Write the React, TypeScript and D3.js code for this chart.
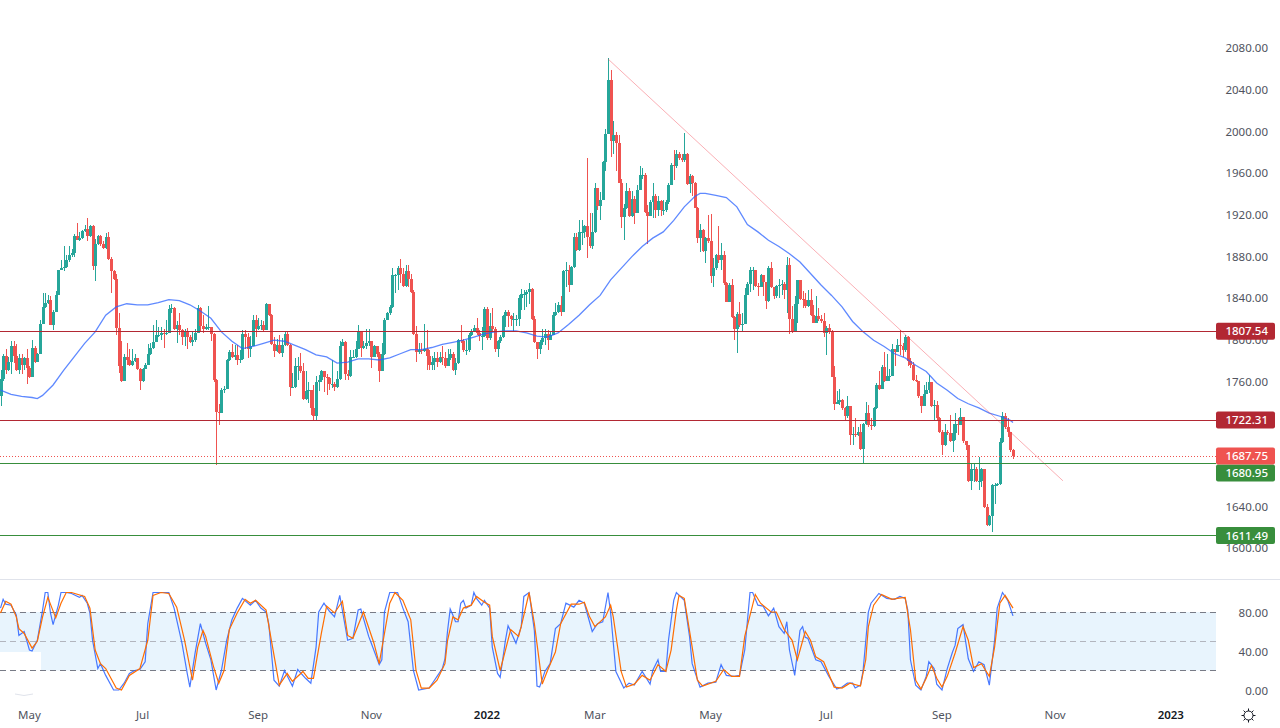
import { useRef, useEffect } from 'react';
import * as d3 from 'd3';

// Daily candles, values. Each open is the previous close.
const firstOpen = 1745;
const closes = [
  1762, 1784, 1770, 1778, 1793, 1784, 1770, 1782, 1775, 1782,
  1772, 1764, 1792, 1778, 1786, 1815, 1831, 1835, 1838, 1814,
  1826, 1842, 1866, 1868, 1869, 1876, 1881, 1883, 1899, 1895,
  1897, 1904, 1906, 1899, 1909, 1870, 1891, 1899, 1891, 1888,
  1898, 1877, 1865, 1858, 1811, 1774, 1760, 1783, 1780, 1775,
  1779, 1782, 1771, 1760, 1771, 1775, 1786, 1792, 1797, 1804,
  1804, 1806, 1805, 1806, 1829, 1830, 1810, 1814, 1809, 1802,
  1807, 1802, 1797, 1799, 1806, 1830, 1813, 1810, 1812, 1812,
  1805, 1761, 1730, 1729, 1751, 1752, 1780, 1788, 1783, 1785,
  1780, 1781, 1805, 1802, 1791, 1793, 1818, 1810, 1813, 1814,
  1809, 1834, 1823, 1795, 1789, 1794, 1787, 1794, 1805, 1794,
  1754, 1754, 1774, 1774, 1769, 1743, 1750, 1751, 1734, 1726,
  1759, 1761, 1769, 1764, 1763, 1757, 1757, 1754, 1762, 1793,
  1797, 1767, 1765, 1783, 1783, 1791, 1808, 1792, 1793, 1796,
  1798, 1783, 1793, 1786, 1769, 1786, 1818, 1825, 1831, 1862,
  1862, 1868, 1863, 1851, 1865, 1858, 1845, 1805, 1788, 1790,
  1789, 1791, 1784, 1775, 1778, 1782, 1778, 1783, 1782, 1774,
  1782, 1786, 1770, 1777, 1799, 1798, 1790, 1790, 1804, 1808,
  1811, 1806, 1803, 1803, 1829, 1801, 1813, 1810, 1791, 1798,
  1802, 1822, 1826, 1822, 1819, 1819, 1819, 1840, 1843, 1843,
  1845, 1848, 1819, 1797, 1791, 1797, 1801, 1805, 1799, 1804,
  1823, 1826, 1833, 1826, 1865, 1866, 1852, 1869, 1898, 1886,
  1903, 1903, 1909, 1898, 1889, 1903, 1945, 1928, 1934, 1970,
  1997, 2049, 1990, 1996, 1988, 1950, 1917, 1926, 1942, 1918,
  1935, 1921, 1943, 1958, 1958, 1922, 1918, 1932, 1937, 1924,
  1933, 1924, 1924, 1932, 1948, 1967, 1966, 1978, 1974, 1972,
  1978, 1949, 1957, 1950, 1926, 1897, 1905, 1885, 1897, 1894,
  1861, 1868, 1881, 1876, 1881, 1854, 1836, 1852, 1821, 1810,
  1824, 1814, 1815, 1842, 1853, 1866, 1866, 1851, 1850, 1862,
  1855, 1837, 1868, 1850, 1841, 1851, 1852, 1853, 1847, 1871,
  1819, 1807, 1834, 1857, 1839, 1838, 1832, 1838, 1823, 1816,
  1822, 1819, 1817, 1806, 1811, 1807, 1764, 1738, 1740, 1742,
  1734, 1726, 1736, 1708, 1709, 1708, 1711, 1695, 1719, 1729,
  1718, 1717, 1734, 1756, 1752, 1773, 1760, 1765, 1765, 1791,
  1788, 1794, 1793, 1790, 1802, 1779, 1775, 1761, 1760, 1745,
  1736, 1747, 1751, 1759, 1736, 1737, 1724, 1711, 1698, 1711,
  1710, 1702, 1710, 1719, 1718, 1725, 1702, 1698, 1664, 1675,
  1675, 1664, 1664, 1675, 1639, 1622, 1630, 1660, 1660, 1661,
  1701, 1726, 1716, 1711, 1694, 1687.75,
];
const highs = [
  1770, 1786, 1791, 1783, 1798, 1798, 1795, 1786, 1786, 1783,
  1791, 1774, 1799, 1793, 1787, 1818, 1844, 1844, 1842, 1841,
  1828, 1846, 1866, 1876, 1889, 1881, 1889, 1887, 1901, 1912,
  1903, 1905, 1910, 1916, 1910, 1910, 1896, 1900, 1900, 1894,
  1902, 1903, 1879, 1866, 1863, 1825, 1798, 1786, 1796, 1791,
  1791, 1786, 1782, 1772, 1772, 1777, 1795, 1796, 1814, 1818,
  1812, 1812, 1810, 1818, 1833, 1834, 1831, 1817, 1825, 1810,
  1810, 1811, 1804, 1807, 1810, 1833, 1831, 1823, 1815, 1832,
  1812, 1806, 1762, 1738, 1753, 1755, 1781, 1790, 1795, 1794,
  1794, 1790, 1809, 1809, 1806, 1803, 1823, 1823, 1820, 1818,
  1817, 1835, 1830, 1824, 1802, 1800, 1804, 1801, 1808, 1807,
  1795, 1768, 1782, 1783, 1787, 1777, 1769, 1759, 1751, 1756,
  1765, 1766, 1770, 1769, 1767, 1764, 1780, 1759, 1769, 1798,
  1800, 1798, 1770, 1790, 1790, 1798, 1814, 1807, 1798, 1810,
  1810, 1798, 1794, 1793, 1788, 1796, 1820, 1826, 1833, 1868,
  1863, 1870, 1877, 1868, 1871, 1871, 1863, 1847, 1813, 1796,
  1796, 1815, 1809, 1790, 1784, 1788, 1788, 1788, 1793, 1788,
  1791, 1791, 1788, 1782, 1800, 1814, 1800, 1799, 1806, 1810,
  1814, 1820, 1809, 1812, 1831, 1831, 1825, 1830, 1812, 1799,
  1804, 1823, 1828, 1828, 1823, 1825, 1823, 1842, 1848, 1847,
  1847, 1854, 1849, 1822, 1797, 1799, 1810, 1810, 1809, 1807,
  1826, 1835, 1836, 1841, 1866, 1874, 1871, 1870, 1902, 1902,
  1914, 1914, 1910, 1974, 1921, 1921, 1950, 1945, 1941, 1971,
  2002, 2070, 2058, 2009, 1999, 1996, 1954, 1930, 1950, 1945,
  1942, 1937, 1948, 1966, 1964, 1960, 1929, 1934, 1950, 1939,
  1937, 1934, 1934, 1934, 1950, 1969, 1982, 1982, 1980, 1978,
  1998, 1979, 1959, 1958, 1951, 1927, 1911, 1906, 1898, 1919,
  1920, 1878, 1882, 1909, 1892, 1885, 1855, 1854, 1858, 1822,
  1826, 1836, 1825, 1849, 1855, 1869, 1869, 1866, 1854, 1863,
  1857, 1855, 1870, 1874, 1850, 1852, 1858, 1857, 1855, 1879,
  1878, 1832, 1841, 1857, 1857, 1846, 1844, 1847, 1848, 1833,
  1841, 1830, 1823, 1825, 1813, 1815, 1809, 1774, 1750, 1752,
  1743, 1735, 1745, 1736, 1716, 1724, 1716, 1719, 1720, 1740,
  1737, 1724, 1735, 1758, 1769, 1775, 1788, 1786, 1771, 1795,
  1791, 1800, 1809, 1796, 1804, 1803, 1782, 1778, 1766, 1760,
  1745, 1756, 1759, 1766, 1759, 1742, 1741, 1725, 1713, 1719,
  1713, 1727, 1719, 1729, 1724, 1734, 1725, 1702, 1698, 1681,
  1680, 1677, 1687, 1676, 1672, 1642, 1631, 1661, 1662, 1662,
  1705, 1730, 1729, 1724, 1711, 1695,
];
const lows = [
  1736, 1760, 1767, 1769, 1767, 1777, 1769, 1767, 1767, 1770,
  1757, 1763, 1764, 1777, 1778, 1786, 1815, 1830, 1834, 1814,
  1809, 1826, 1842, 1866, 1865, 1868, 1874, 1879, 1879, 1895,
  1894, 1896, 1903, 1894, 1898, 1866, 1856, 1890, 1889, 1887,
  1887, 1876, 1844, 1857, 1804, 1768, 1759, 1760, 1775, 1774,
  1774, 1778, 1770, 1751, 1759, 1771, 1775, 1785, 1791, 1797,
  1802, 1799, 1792, 1804, 1806, 1825, 1809, 1796, 1804, 1794,
  1793, 1791, 1796, 1793, 1797, 1806, 1807, 1806, 1809, 1809,
  1798, 1759, 1679, 1718, 1729, 1748, 1752, 1779, 1782, 1780,
  1775, 1777, 1780, 1791, 1782, 1783, 1802, 1802, 1809, 1809,
  1807, 1809, 1822, 1794, 1783, 1788, 1786, 1783, 1793, 1793,
  1745, 1753, 1753, 1761, 1768, 1742, 1742, 1739, 1727, 1722,
  1722, 1750, 1759, 1749, 1746, 1751, 1753, 1750, 1753, 1761,
  1793, 1761, 1761, 1764, 1782, 1782, 1791, 1783, 1791, 1791,
  1793, 1772, 1783, 1783, 1759, 1769, 1785, 1818, 1823, 1830,
  1844, 1847, 1854, 1850, 1850, 1850, 1844, 1804, 1778, 1786,
  1786, 1788, 1770, 1770, 1770, 1770, 1773, 1777, 1775, 1772,
  1774, 1780, 1769, 1766, 1776, 1796, 1788, 1785, 1788, 1803,
  1807, 1804, 1798, 1790, 1802, 1799, 1799, 1807, 1788, 1783,
  1796, 1801, 1812, 1812, 1813, 1807, 1813, 1813, 1828, 1828,
  1831, 1834, 1818, 1796, 1781, 1786, 1794, 1794, 1790, 1802,
  1807, 1822, 1825, 1822, 1826, 1850, 1845, 1852, 1868, 1885,
  1885, 1890, 1897, 1878, 1888, 1887, 1902, 1924, 1914, 1934,
  1961, 1997, 1975, 1978, 1961, 1950, 1907, 1895, 1925, 1917,
  1917, 1911, 1921, 1943, 1954, 1921, 1891, 1918, 1916, 1916,
  1918, 1918, 1919, 1922, 1930, 1948, 1953, 1964, 1972, 1970,
  1970, 1948, 1940, 1937, 1926, 1892, 1884, 1884, 1873, 1892,
  1854, 1850, 1866, 1873, 1866, 1852, 1836, 1838, 1820, 1799,
  1787, 1812, 1807, 1815, 1842, 1845, 1847, 1850, 1841, 1850,
  1841, 1829, 1836, 1849, 1839, 1840, 1840, 1842, 1839, 1825,
  1805, 1806, 1808, 1816, 1838, 1830, 1830, 1831, 1822, 1816,
  1816, 1817, 1816, 1802, 1785, 1805, 1764, 1732, 1738, 1737,
  1732, 1722, 1724, 1698, 1698, 1706, 1707, 1694, 1681, 1718,
  1716, 1713, 1716, 1733, 1751, 1752, 1759, 1760, 1760, 1765,
  1774, 1788, 1785, 1783, 1788, 1774, 1772, 1760, 1759, 1744,
  1729, 1736, 1747, 1748, 1735, 1721, 1722, 1710, 1689, 1697,
  1708, 1701, 1692, 1703, 1708, 1718, 1700, 1694, 1663, 1655,
  1663, 1663, 1655, 1658, 1638, 1621, 1621, 1615, 1642, 1659,
  1660, 1700, 1714, 1706, 1692, 1685,
];

// Blue moving average, sampled every few candles
const maDays = [
  0, 4, 8, 12, 14, 16, 20, 24, 28, 32, 36, 40, 44, 48, 52, 56, 60, 64, 68, 72,
  76, 80, 84, 88, 92, 96, 100, 104, 108, 112, 116, 120, 124, 128, 132, 136, 140, 144, 148, 152,
  156, 160, 164, 168, 172, 176, 180, 184, 188, 192, 196, 200, 204, 208, 212, 216, 220, 224, 228, 232,
  236, 240, 244, 248, 252, 256, 260, 264, 266, 268, 272, 276, 280, 284, 288, 292, 296, 300, 304, 308,
  312, 316, 320, 324, 328, 332, 336, 340, 344, 348, 352, 356, 360, 364, 368, 372, 376, 380, 384, 385,
];
const maValues = [
  1751, 1747, 1745, 1744, 1743, 1746, 1756, 1770, 1783, 1796, 1807, 1823, 1831, 1834, 1833, 1833, 1835, 1838, 1837, 1833,
  1827, 1820, 1807, 1798, 1791, 1793, 1796, 1799, 1798, 1794, 1790, 1785, 1783, 1777, 1778, 1781, 1781, 1780, 1782, 1786,
  1790, 1790, 1792, 1795, 1797, 1799, 1802, 1805, 1807, 1808, 1808, 1806, 1803, 1802, 1806, 1814, 1823, 1833, 1842, 1857,
  1868, 1879, 1889, 1897, 1903, 1914, 1927, 1937, 1940, 1940, 1938, 1936, 1927, 1910, 1903, 1895, 1889, 1882, 1874, 1863,
  1852, 1842, 1831, 1817, 1807, 1799, 1793, 1786, 1782, 1775, 1769, 1758, 1751, 1743, 1738, 1734, 1729, 1726, 1722, 1720,
];

// Trend line from the March high
const trendDays = [231, 404];
const trendValues = [2069, 1664];

// Horizontal levels with their axis tags
const levelValues = [1807.54, 1722.31, 1680.95, 1611.49];
const levelColors = ['#b22833', '#b22833', '#388e3c', '#388e3c'];
const lastPrice = 1687.75;

// Stochastic %K
const kDays = [
  0, 1, 2, 4, 6, 7, 9, 11, 12, 14, 16, 17, 18, 19, 20, 22, 23, 25, 27, 30,
  31, 33, 34, 35, 37, 38, 40, 43, 45, 47, 49, 51, 53, 55, 56, 58, 61, 64, 66, 69,
  71, 72, 74, 76, 78, 80, 82, 84, 86, 88, 90, 92, 95, 97, 99, 101, 102, 104, 106, 108,
  111, 113, 116, 118, 120, 121, 123, 125, 127, 129, 132, 134, 136, 137, 140, 141, 144, 145, 146, 148,
  151, 153, 155, 157, 159, 163, 165, 166, 168, 169, 170, 171, 172, 173, 174, 175, 176, 177, 179, 180,
  181, 183, 184, 186, 187, 189, 190, 192, 193, 196, 198, 199, 201, 203, 204, 205, 207, 209, 211, 213,
  215, 218, 220, 222, 225, 227, 229, 231, 232, 234, 237, 239, 241, 244, 247, 248, 250, 251, 253, 254,
  256, 257, 260, 262, 263, 266, 269, 272, 274, 276, 279, 281, 283, 285, 286, 288, 290, 292, 294, 296,
  298, 299, 300, 302, 304, 305, 306, 307, 310, 312, 315, 318, 320, 322, 324, 325, 327, 328, 330, 331,
  334, 337, 340, 342, 344, 345, 346, 348, 350, 352, 353, 355, 356, 358, 360, 362, 363, 364, 366, 368,
  370, 372, 374, 376, 378, 379, 381, 383, 385,
];
const kValues = [
  84, 93, 88, 87, 77, 56, 60, 41, 40, 51, 82, 100, 100, 79, 67, 87, 100, 100, 99, 95,
  97, 89, 79, 51, 22, 27, 15, 0, 0, 7, 17, 20, 21, 29, 68, 100, 100, 100, 84, 48,
  17, 3, 38, 68, 48, 31, 0, 20, 51, 72, 84, 94, 87, 92, 84, 80, 68, 10, 4, 20,
  4, 21, 12, 7, 44, 80, 89, 81, 75, 97, 51, 53, 82, 83, 55, 48, 26, 31, 80, 100,
  100, 84, 70, 20, 0, 2, 10, 14, 22, 32, 61, 83, 77, 70, 70, 89, 92, 84, 87, 100,
  94, 87, 92, 84, 44, 17, 13, 51, 66, 48, 65, 96, 100, 61, 4, 3, 19, 27, 63, 68,
  89, 85, 92, 89, 60, 68, 70, 100, 79, 19, 2, 7, 5, 19, 6, 20, 31, 19, 19, 51,
  92, 100, 92, 55, 27, 3, 7, 8, 26, 15, 14, 15, 41, 100, 100, 87, 86, 76, 84, 65,
  58, 70, 41, 15, 61, 65, 54, 53, 31, 29, 14, 1, 3, 7, 7, 2, 5, 20, 80, 89,
  99, 94, 93, 96, 94, 82, 31, 5, 0, 14, 29, 22, 6, 0, 22, 39, 46, 63, 67, 32,
  19, 29, 26, 5, 51, 84, 100, 92, 76,
];

// Stochastic %D
const dDays = [
  0, 2, 4, 6, 7, 9, 12, 14, 16, 18, 21, 23, 25, 27, 32, 34, 36, 38, 40, 44,
  46, 49, 53, 56, 58, 61, 64, 67, 70, 73, 75, 77, 78, 81, 83, 85, 87, 90, 93, 95,
  97, 101, 103, 106, 109, 111, 115, 117, 119, 122, 124, 127, 130, 132, 134, 138, 142, 144, 148, 150,
  153, 156, 158, 160, 163, 166, 169, 170, 172, 174, 176, 179, 181, 184, 186, 187, 190, 192, 194, 197,
  198, 201, 203, 206, 208, 211, 213, 217, 220, 222, 224, 226, 230, 232, 233, 236, 238, 241, 244, 247,
  250, 253, 255, 257, 258, 260, 263, 265, 267, 272, 275, 278, 281, 283, 287, 289, 293, 295, 298, 301,
  303, 306, 308, 310, 313, 317, 320, 323, 327, 329, 330, 332, 335, 339, 341, 344, 346, 348, 350, 352,
  354, 356, 358, 360, 363, 366, 368, 370, 373, 376, 378, 380, 382, 385,
];
const dValues = [
  79, 91, 88, 75, 63, 58, 43, 50, 75, 95, 74, 89, 100, 100, 96, 84, 41, 27, 22, 2,
  0, 15, 22, 51, 97, 100, 99, 85, 51, 10, 44, 61, 55, 24, 7, 20, 62, 79, 93, 89,
  92, 82, 51, 5, 17, 9, 19, 12, 12, 58, 86, 79, 91, 56, 53, 80, 48, 27, 89, 100,
  92, 72, 20, 2, 2, 10, 27, 51, 75, 72, 84, 87, 96, 90, 87, 55, 20, 41, 62, 55,
  65, 100, 68, 6, 20, 39, 68, 88, 88, 90, 75, 65, 75, 87, 75, 19, 3, 6, 15, 10,
  26, 19, 41, 82, 97, 94, 44, 10, 4, 9, 21, 14, 14, 55, 98, 89, 80, 80, 62, 51,
  31, 60, 51, 34, 29, 3, 2, 7, 4, 31, 65, 87, 98, 93, 94, 95, 62, 10, 1, 12,
  25, 12, 3, 14, 38, 65, 51, 23, 27, 14, 44, 89, 97, 84,
];

// 1680 and 1720 sit fully behind the tags, so they are left out
const priceTicks = [1600, 1640, 1760, 1800, 1840, 1880, 1920, 1960, 2000, 2040, 2080];
const stochTicks = [0, 40, 80];
const stochLevels = [80, 50, 20];
const timeLabels = ['May', 'Jul', 'Sep', 'Nov', '2022', 'Mar', 'May', 'Jul', 'Sep', 'Nov', '2023'];
const timeDays = [11, 54, 98, 141, 185, 226, 270, 314, 358, 401, 445];

const UP = '#26a69a';
const DOWN = '#ef5350';
const FONT = '"Noto Sans", sans-serif';
const TEXT = '#50535e';

export default function App() {
  const svgRef = useRef<SVGSVGElement>(null);

  useEffect(() => {
    if (!svgRef.current) return;
    document.body.style.margin = '0';

    const svg = d3.select(svgRef.current);
    svg.selectAll('*').remove();

    const plotRight = 1216;
    const x = d3.scaleLinear().domain([0, 385]).range([0.5, 1013]);
    const y = d3.scaleLinear().domain([1600, 2080]).range([547.5, 47.5]);
    const yStoch = d3.scaleLinear().domain([0, 100]).range([690, 592.5]);
    const snap = (v: number) => Math.floor(v) + 0.5;

    // Stochastic band: the first stretch only reaches down to about 39
    const band = svg.append('g').attr('fill', '#e8f4fd');
    band.append('rect')
      .attr('x', 0)
      .attr('y', yStoch(80))
      .attr('width', 41)
      .attr('height', yStoch(39) - yStoch(80));
    band.append('rect')
      .attr('x', 41)
      .attr('y', yStoch(80))
      .attr('width', plotRight - 41)
      .attr('height', yStoch(20) - yStoch(80));

    stochLevels.forEach((v) => {
      svg.append('line')
        .attr('x1', 0)
        .attr('x2', plotRight)
        .attr('y1', snap(yStoch(v)))
        .attr('y2', snap(yStoch(v)))
        .attr('stroke', v === 50 ? '#b2b5be' : '#787b86')
        .attr('stroke-dasharray', '6 4');
    });

    // Pane separator
    svg.append('line')
      .attr('x1', 0)
      .attr('x2', 1280)
      .attr('y1', 579.5)
      .attr('y2', 579.5)
      .attr('stroke', '#e0e3eb');

    // Candles
    const candles = svg.append('g').attr('shape-rendering', 'crispEdges');
    closes.forEach((close, i) => {
      const open = i === 0 ? firstOpen : closes[i - 1];
      const color = close >= open ? UP : DOWN;
      const cx = Math.round(x(i));
      candles.append('rect')
        .attr('x', cx)
        .attr('y', y(highs[i]))
        .attr('width', 1)
        .attr('height', y(lows[i]) - y(highs[i]))
        .attr('fill', color);
      candles.append('rect')
        .attr('x', cx - 1)
        .attr('y', y(Math.max(open, close)))
        .attr('width', 3)
        .attr('height', Math.max(1, Math.abs(y(open) - y(close))))
        .attr('fill', color);
    });

    // Moving average
    const maLine = d3.line<number>()
      .x((d) => x(d))
      .y((_, i) => y(maValues[i]));
    svg.append('path')
      .attr('d', maLine(maDays))
      .attr('fill', 'none')
      .attr('stroke', '#2962ff')
      .attr('stroke-width', 1.3)
      .attr('stroke-opacity', 0.75);

    // Trend line
    svg.append('line')
      .attr('x1', x(trendDays[0]))
      .attr('y1', y(trendValues[0]))
      .attr('x2', x(trendDays[1]))
      .attr('y2', y(trendValues[1]))
      .attr('stroke', '#f23645')
      .attr('stroke-opacity', 0.4);

    // Levels and last price line
    levelValues.forEach((v, i) => {
      svg.append('line')
        .attr('x1', 0)
        .attr('x2', plotRight)
        .attr('y1', snap(y(v)))
        .attr('y2', snap(y(v)))
        .attr('stroke', levelColors[i])
        .attr('stroke-width', 1.2);
    });
    svg.append('line')
      .attr('x1', 0)
      .attr('x2', plotRight)
      .attr('y1', snap(y(lastPrice)))
      .attr('y2', snap(y(lastPrice)))
      .attr('stroke', DOWN)
      .attr('stroke-dasharray', '1 2');

    // Stochastic lines
    const kLine = d3.line<number>()
      .x((d) => x(d))
      .y((_, i) => yStoch(kValues[i]));
    const dLine = d3.line<number>()
      .x((d) => x(d))
      .y((_, i) => yStoch(dValues[i]));
    svg.append('path')
      .attr('d', kLine(kDays))
      .attr('fill', 'none')
      .attr('stroke', '#2962ff')
      .attr('stroke-width', 1.2)
      .attr('stroke-opacity', 0.85);
    svg.append('path')
      .attr('d', dLine(dDays))
      .attr('fill', 'none')
      .attr('stroke', '#ff6d00')
      .attr('stroke-width', 1.2);

    // Faint mark left under the pane
    svg.append('path')
      .attr('d', 'M15 694 Q24 697 33 694')
      .attr('fill', 'none')
      .attr('stroke', '#e0e3eb');

    // Price and stochastic axes
    const priceAxis = d3.axisRight(y)
      .tickValues(priceTicks)
      .tickFormat(d3.format('.2f'))
      .tickSize(0);
    const stochAxis = d3.axisRight(yStoch)
      .tickValues(stochTicks)
      .tickFormat(d3.format('.2f'))
      .tickSize(0);
    [priceAxis, stochAxis].forEach((axis) => {
      const g = svg.append('g')
        .attr('transform', 'translate(1268,0.5)')
        .call(axis);
      g.select('.domain').remove();
      g.selectAll('text')
        .attr('x', 0)
        .attr('text-anchor', 'end')
        .attr('font-family', FONT)
        .attr('font-size', 11.5)
        .attr('fill', TEXT);
    });

    // Axis tags: the last price keeps its place, a level tag that would hit it slides below
    const tagH = 17;
    const lastY = y(lastPrice);
    const tags = [
      ...levelValues.map((v, i) => {
        const ly = y(v);
        const hit = Math.abs(ly - lastY) < tagH;
        return { v, color: levelColors[i], ty: hit ? lastY + tagH : ly };
      }),
      { v: lastPrice, color: DOWN, ty: lastY },
    ];
    tags.forEach(({ v, color, ty }) => {
      svg.append('rect')
        .attr('x', 1216)
        .attr('y', ty - tagH / 2)
        .attr('width', 59)
        .attr('height', tagH)
        .attr('rx', 2)
        .attr('fill', color);
      svg.append('text')
        .attr('x', 1268)
        .attr('y', ty)
        .attr('dy', '0.35em')
        .attr('text-anchor', 'end')
        .attr('font-family', FONT)
        .attr('font-size', 11.5)
        .attr('font-weight', 500)
        .attr('fill', '#fff')
        .text(d3.format('.2f')(v));
    });

    // Time axis
    timeLabels.forEach((label, i) => {
      const isYear = label.length === 4;
      svg.append('text')
        .attr('x', x(timeDays[i]))
        .attr('y', 715)
        .attr('dy', '0.35em')
        .attr('text-anchor', 'middle')
        .attr('font-family', FONT)
        .attr('font-size', 11.5)
        .attr('font-weight', isYear ? 600 : 400)
        .attr('fill', isYear ? '#131722' : TEXT)
        .text(label);
    });

    // Theme button
    const sun = svg.append('g')
      .attr('transform', 'translate(1248.5,715.5)')
      .attr('fill', 'none')
      .attr('stroke', '#131722');
    sun.append('circle').attr('r', 4.5);
    d3.range(8).forEach((k) => {
      const a = (k * Math.PI) / 4;
      sun.append('line')
        .attr('x1', 4.5 * Math.cos(a))
        .attr('y1', 4.5 * Math.sin(a))
        .attr('x2', 7 * Math.cos(a))
        .attr('y2', 7 * Math.sin(a));
    });
  }, []);

  return (
    <svg
      ref={svgRef}
      width={1280}
      height={728}
      style={{ display: 'block', background: '#fff' }}
    />
  );
}
